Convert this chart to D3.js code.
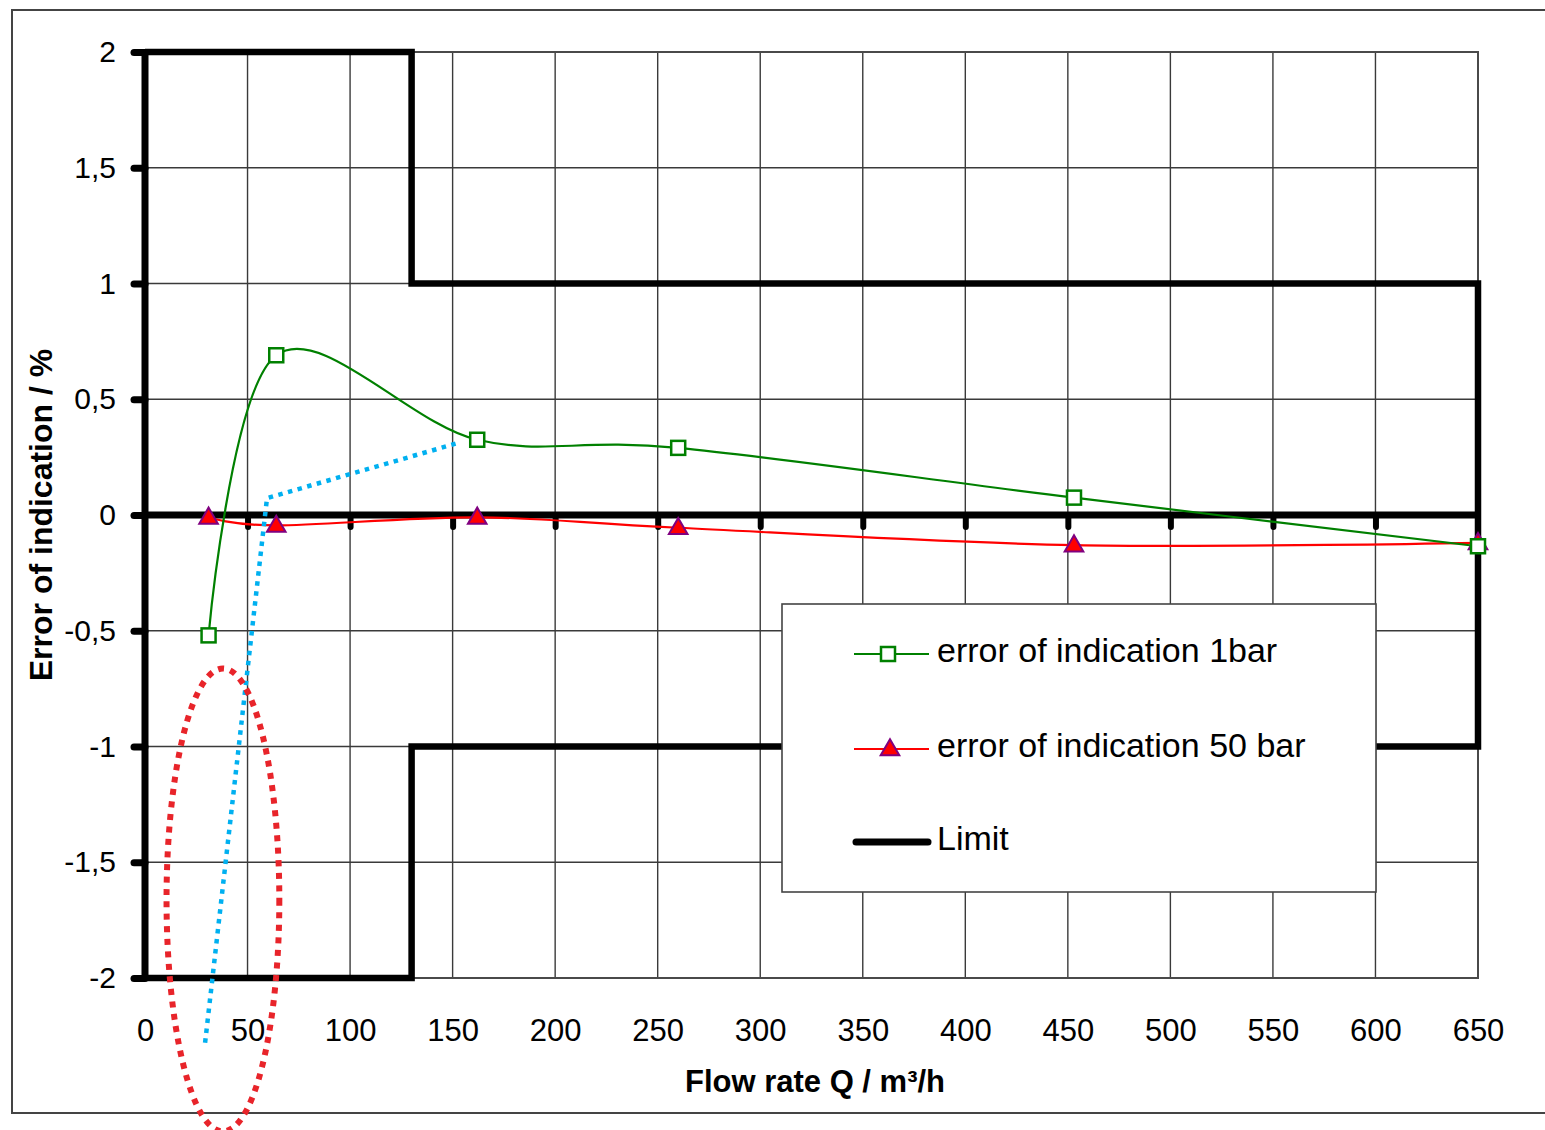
<!DOCTYPE html>
<html>
<head>
<meta charset="utf-8">
<script src="https://cdnjs.cloudflare.com/ajax/libs/d3/7.8.5/d3.min.js"></script>
<style>
  html, body { margin: 0; padding: 0; background: #fff; }
  svg { display: block; font-family: "Liberation Sans", Arial, sans-serif; }
</style>
</head>
<body>
<svg id="chart" width="1545" height="1130"></svg>
<script>
// ---- data ----
const flowQ = [31, 64, 162, 260, 453, 650];
const err1bar = [-0.52, 0.69, 0.325, 0.29, 0.075, -0.135];
const err50bar = [-0.01, -0.045, -0.01, -0.055, -0.13, -0.12];
const limitQ = [0, 130, 130, 650, 650, 130, 130, 0];
const limitErr = [2, 2, 1, 1, -1, -1, -2, -2];
const xTicks = [0, 50, 100, 150, 200, 250, 300, 350, 400, 450, 500, 550, 600, 650];
const yTicks = [-2, -1.5, -1, -0.5, 0, 0.5, 1, 1.5, 2];
const seriesNames = ["error of indication 1bar", "error of indication 50 bar", "Limit"];
const xTitle = "Flow rate Q / m³/h";
const yTitle = "Error of indication / %";
// annotation (drawn in data coordinates)
const arrowQ = [29.3, 59.5, 152.6];
const arrowErr = [-2.28, 0.073, 0.311];
const ellipseCenter = [38.0, -1.663];
const ellipseRadius = [27.5, 1.0];

// ---- layout ----
const svg = d3.select("#chart");
const x = d3.scaleLinear().domain([0, 650]).range([145, 1478]);
const y = d3.scaleLinear().domain([-2, 2]).range([978, 52]);
const fmt = d => String(d).replace(".", ",");

// outer frame
svg.append("rect").attr("x", 12).attr("y", 10).attr("width", 1560).attr("height", 1103)
  .attr("fill", "#fff").attr("stroke", "#444").attr("stroke-width", 2);

// gridlines
const grid = svg.append("g").attr("stroke", "#3a3a3a").attr("stroke-width", 1.4);
grid.selectAll("line.v").data(xTicks.filter(d => d > 0)).join("line")
  .attr("x1", d => x(d)).attr("x2", d => x(d)).attr("y1", y(2)).attr("y2", y(-2));
grid.selectAll("line.h").data(yTicks).join("line")
  .attr("x1", x(0)).attr("x2", x(650)).attr("y1", d => y(d)).attr("y2", d => y(d));
svg.append("rect").attr("x", x(0)).attr("y", y(2)).attr("width", x(650) - x(0)).attr("height", y(-2) - y(2))
  .attr("fill", "none").attr("stroke", "#4a4a4a").attr("stroke-width", 2);

// limit line
const limitData = limitQ.map((q, i) => [q, limitErr[i]]);
svg.append("path").datum(limitData)
  .attr("d", d3.line().x(d => x(d[0])).y(d => y(d[1])))
  .attr("fill", "none").attr("stroke", "#000").attr("stroke-width", 6.5).attr("stroke-linejoin", "miter");

// y axis
const yAxis = svg.append("g").attr("transform", `translate(${x(0)},0)`)
  .call(d3.axisLeft(y).tickValues(yTicks).tickFormat(fmt).tickSize(11).tickPadding(18));
yAxis.select(".domain").remove();
yAxis.selectAll(".tick line").attr("stroke", "#000").attr("stroke-width", 7).attr("stroke-linecap", "round");
yAxis.selectAll(".tick text").attr("font-size", 30).attr("fill", "#000")
  .attr("font-family", "Liberation Sans, Arial, sans-serif");
svg.append("line").attr("x1", x(0)).attr("x2", x(0)).attr("y1", y(2)).attr("y2", y(-2))
  .attr("stroke", "#000").attr("stroke-width", 7);

// x axis at zero
const xZero = svg.append("g").attr("transform", `translate(0,${y(0)})`)
  .call(d3.axisBottom(x).tickValues(xTicks.filter(d => d > 0 && d < 650)).tickSize(12).tickFormat(""));
xZero.select(".domain").remove();
xZero.selectAll(".tick line").attr("stroke", "#000").attr("stroke-width", 6).attr("stroke-linecap", "round");
svg.append("line").attr("x1", x(0)).attr("x2", x(650)).attr("y1", y(0)).attr("y2", y(0))
  .attr("stroke", "#000").attr("stroke-width", 7);

// x tick labels at bottom
const xAxis = svg.append("g").attr("transform", `translate(0,${y(-2)})`)
  .call(d3.axisBottom(x).tickValues(xTicks).tickSize(0).tickPadding(41));
xAxis.select(".domain").remove();
xAxis.selectAll(".tick text").attr("font-size", 31).attr("fill", "#000")
  .attr("font-family", "Liberation Sans, Arial, sans-serif");

// axis titles
svg.append("text").attr("x", 815).attr("y", 1092).attr("text-anchor", "middle")
  .attr("font-size", 31).attr("font-weight", "bold").text(xTitle);
svg.append("text").attr("transform", "translate(52,515) rotate(-90)").attr("text-anchor", "middle")
  .attr("font-size", 32).attr("font-weight", "bold").text(yTitle);

// data lines
const curve = d3.curveCardinal.tension(0);
const line = d3.line().x(d => x(d[0])).y(d => y(d[1])).curve(curve);
const s1 = flowQ.map((q, i) => [q, err1bar[i]]);
const s2 = flowQ.map((q, i) => [q, err50bar[i]]);
svg.append("path").datum(s2).attr("d", line).attr("fill", "none").attr("stroke", "#ff0000").attr("stroke-width", 2.2);
svg.append("path").datum(s1).attr("d", line).attr("fill", "none").attr("stroke", "#008000").attr("stroke-width", 2.2);

const tri = d3.symbol().type(d3.symbolTriangle).size(150);
svg.selectAll("path.tri").data(s2).join("path")
  .attr("transform", d => `translate(${x(d[0])},${y(d[1]) + 1})`)
  .attr("d", tri).attr("fill", "#ff0000").attr("stroke", "#800080").attr("stroke-width", 2);
svg.selectAll("rect.sq").data(s1).join("rect")
  .attr("x", d => x(d[0]) - 7).attr("y", d => y(d[1]) - 7).attr("width", 14).attr("height", 14)
  .attr("fill", "#fff").attr("stroke", "#008000").attr("stroke-width", 2.5);

// legend
const lg = svg.append("g");
lg.append("rect").attr("x", 782).attr("y", 604).attr("width", 594).attr("height", 288)
  .attr("fill", "#fff").attr("stroke", "#444").attr("stroke-width", 1.6);
const rowsY = [654, 749, 842];
lg.append("line").attr("x1", 854).attr("x2", 929).attr("y1", rowsY[0]).attr("y2", rowsY[0])
  .attr("stroke", "#008000").attr("stroke-width", 2.2);
lg.append("rect").attr("x", 888 - 7).attr("y", rowsY[0] - 7).attr("width", 14).attr("height", 14)
  .attr("fill", "#fff").attr("stroke", "#008000").attr("stroke-width", 2.5);
lg.append("line").attr("x1", 854).attr("x2", 929).attr("y1", rowsY[1]).attr("y2", rowsY[1])
  .attr("stroke", "#ff0000").attr("stroke-width", 2.2);
lg.append("path").attr("transform", `translate(890,${rowsY[1] + 1})`).attr("d", tri)
  .attr("fill", "#ff0000").attr("stroke", "#800080").attr("stroke-width", 2);
lg.append("line").attr("x1", 856).attr("x2", 928).attr("y1", rowsY[2]).attr("y2", rowsY[2])
  .attr("stroke", "#000").attr("stroke-width", 7).attr("stroke-linecap", "round");
lg.selectAll("text").data(seriesNames).join("text")
  .attr("x", 937).attr("y", (d, i) => rowsY[i] + 8).attr("font-size", 34).attr("fill", "#000").text(d => d);

// annotations
const arrow = arrowQ.map((q, i) => [q, arrowErr[i]]);
svg.append("path").datum(arrow)
  .attr("d", d3.line().x(d => x(d[0])).y(d => y(d[1])))
  .attr("fill", "none").attr("stroke", "#00b0f0").attr("stroke-width", 4.5).attr("stroke-dasharray", "4.5,5.5");
svg.append("ellipse")
  .attr("cx", x(ellipseCenter[0])).attr("cy", y(ellipseCenter[1]))
  .attr("rx", x(ellipseCenter[0] + ellipseRadius[0]) - x(ellipseCenter[0]))
  .attr("ry", y(ellipseCenter[1] - ellipseRadius[1]) - y(ellipseCenter[1]))
  .attr("fill", "none").attr("stroke", "#e8242a").attr("stroke-width", 6).attr("stroke-dasharray", "6,6.5");
</script>
</body>
</html>
